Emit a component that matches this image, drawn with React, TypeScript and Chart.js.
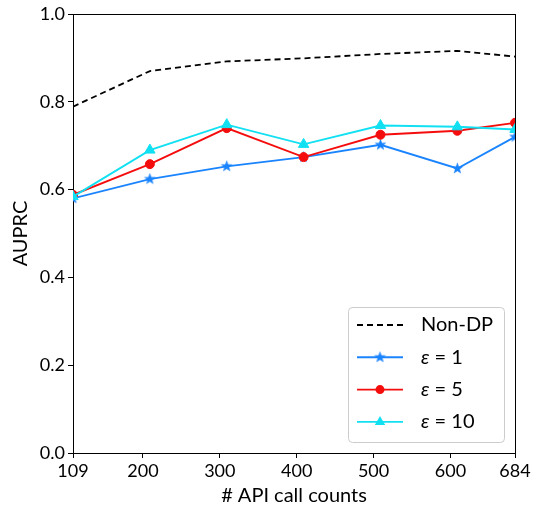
import React, { useEffect, useRef } from "react";
import { Chart, registerables } from "chart.js";

Chart.register(...registerables);

// ---- data ----
const apiCalls = [109, 209, 309, 409, 509, 609, 684];
const xTickValues = [109, 200, 300, 400, 500, 600, 684];
const yTickValues = [0, 0.2, 0.4, 0.6, 0.8, 1.0];
const nonDP = [0.789, 0.870, 0.892, 0.899, 0.909, 0.916, 0.903];
const eps1 = [0.580, 0.624, 0.653, 0.674, 0.702, 0.648, 0.720];
const eps5 = [0.588, 0.658, 0.740, 0.674, 0.725, 0.734, 0.752];
const eps10 = [0.584, 0.690, 0.748, 0.703, 0.746, 0.743, 0.737];
const seriesLabels = ["Non-DP", "ε = 1", "ε = 5", "ε = 10"];
const xTitle = "# API call counts";
const yTitle = "AUPRC";

const FONT = 'Lato, "Open Sans", "DejaVu Sans", sans-serif';
const FS_TICK = 18;
const FS_TITLE = 20;
const BLUE = "#1a84ff";
const RED = "#f50d0d";
const CYAN = "#10e0f2";

function makeStar(color: string, size: number) {
  const c = document.createElement("canvas");
  c.width = size;
  c.height = size;
  const g = c.getContext("2d")!;
  const cx = size / 2, cy = size / 2;
  const ro = size / 2 - 0.3, ri = ro * 0.42;
  g.beginPath();
  for (let i = 0; i < 10; i++) {
    const r = i % 2 === 0 ? ro : ri;
    const a = -Math.PI / 2 + (i * Math.PI) / 5;
    const x = cx + r * Math.cos(a), y = cy + r * Math.sin(a);
    if (i === 0) g.moveTo(x, y); else g.lineTo(x, y);
  }
  g.closePath();
  g.fillStyle = color;
  g.fill();
  return c;
}

function drawMarker(ctx: CanvasRenderingContext2D, style: string, x: number, y: number, r: number, color: string) {
  ctx.beginPath();
  ctx.fillStyle = color;
  if (style === "triangle") {
    ctx.moveTo(x, y - r);
    ctx.lineTo(x + r * Math.sin(Math.PI / 3), y + r / 2);
    ctx.lineTo(x - r * Math.sin(Math.PI / 3), y + r / 2);
    ctx.closePath();
  } else {
    ctx.arc(x, y, r, 0, Math.PI * 2);
  }
  ctx.fill();
}

const toXY = (ys: number[]) => ys.map((y, i) => ({ x: apiCalls[i], y }));

export default function App() {
  const ref = useRef<HTMLCanvasElement>(null);
  useEffect(() => {
    const star = makeStar(BLUE, 13);

    const framePlugin = {
      id: "frame",
      afterDatasetsDraw(chart: any) {
        const { ctx, chartArea: a } = chart;
        ctx.save();
        ctx.strokeStyle = "#000";
        ctx.lineWidth = 1;
        ctx.beginPath();
        ctx.moveTo(a.left, Math.round(a.top) + 0.5);
        ctx.lineTo(a.right, Math.round(a.top) + 0.5);
        ctx.moveTo(Math.round(a.right) + 0.5, a.top);
        ctx.lineTo(Math.round(a.right) + 0.5, a.bottom);
        ctx.stroke();
        ctx.restore();
      },
    };

    const legendPlugin = {
      id: "boxLegend",
      afterDraw(chart: any) {
        const { ctx, chartArea: a } = chart;
        const w = 156, h = 135;
        const right = a.right - 11, bottom = a.bottom - 11;
        const left = right - w, top = bottom - h;
        ctx.save();
        ctx.beginPath();
        const r = 4;
        ctx.moveTo(left + r, top + 0.5);
        ctx.arcTo(right + 0.5, top + 0.5, right + 0.5, bottom, r);
        ctx.arcTo(right + 0.5, bottom + 0.5, left, bottom + 0.5, r);
        ctx.arcTo(left + 0.5, bottom + 0.5, left + 0.5, top, r);
        ctx.arcTo(left + 0.5, top + 0.5, right, top + 0.5, r);
        ctx.closePath();
        ctx.fillStyle = "rgba(255,255,255,0.85)";
        ctx.fill();
        ctx.strokeStyle = "#cccccc";
        ctx.lineWidth = 1;
        ctx.stroke();

        const ds = chart.data.datasets;
        ds.forEach((d: any, i: number) => {
          const y = top + 18 + i * 32.3;
          const x0 = left + 9, x1 = left + 55, xm = (x0 + x1) / 2;
          ctx.beginPath();
          ctx.setLineDash(d.borderDash || []);
          ctx.strokeStyle = d.borderColor;
          ctx.lineWidth = d.borderWidth;
          ctx.moveTo(x0, y);
          ctx.lineTo(x1, y);
          ctx.stroke();
          ctx.setLineDash([]);
          if (d.pointRadius > 0) {
            if (d.pointStyle instanceof HTMLCanvasElement) {
              const img = d.pointStyle;
              ctx.drawImage(img, xm - img.width / 2, y - img.height / 2);
            } else {
              drawMarker(ctx, d.pointStyle, xm, y, d.pointRadius, d.pointBackgroundColor);
            }
          }
          const label: string = d.label;
          ctx.fillStyle = "#000";
          ctx.textBaseline = "middle";
          let tx = left + 73;
          if (label.startsWith("ε")) {
            ctx.font = `italic ${FS_TITLE}px ${FONT}`;
            ctx.fillText("ε", tx, y);
            tx += ctx.measureText("ε").width;
            ctx.font = `${FS_TITLE}px ${FONT}`;
            ctx.fillText(label.slice(1), tx, y);
          } else {
            ctx.font = `${FS_TITLE}px ${FONT}`;
            ctx.fillText(label, tx, y);
          }
        });
        ctx.restore();
      },
    };

    const commonPt = { pointBorderWidth: 1, pointHoverRadius: 5 };

    const chart = new Chart(ref.current!, {
      type: "line",
      data: {
        datasets: [
          {
            label: seriesLabels[0],
            data: toXY(nonDP),
            borderColor: "#000",
            backgroundColor: "#000",
            borderWidth: 1.8,
            borderDash: [6, 4],
            pointRadius: 0,
            clip: 0,
            order: 3,
          },
          {
            label: seriesLabels[1],
            data: toXY(eps1),
            borderColor: BLUE,
            backgroundColor: BLUE,
            borderWidth: 1.9,
            pointStyle: star,
            pointRadius: 6,
            pointBackgroundColor: BLUE,
            pointBorderColor: BLUE,
            clip: 0,
            order: 2,
            ...commonPt,
          },
          {
            label: seriesLabels[2],
            data: toXY(eps5),
            borderColor: RED,
            backgroundColor: RED,
            borderWidth: 1.9,
            pointStyle: "circle",
            pointRadius: 4.5,
            pointBackgroundColor: RED,
            pointBorderColor: RED,
            clip: 0,
            order: 1,
            ...commonPt,
          },
          {
            label: seriesLabels[3],
            data: toXY(eps10),
            borderColor: CYAN,
            backgroundColor: CYAN,
            borderWidth: 1.9,
            pointStyle: "triangle",
            pointRadius: 6,
            pointBackgroundColor: CYAN,
            pointBorderColor: CYAN,
            clip: 0,
            order: 0,
            ...commonPt,
          },
        ] as any,
      },
      options: {
        responsive: false,
        animation: false,
        devicePixelRatio: 1,
        layout: { padding: { top: 14, right: 20, left: 0, bottom: 0 } },
        plugins: { legend: { display: false }, tooltip: { enabled: false } },
        elements: { line: { tension: 0 } },
        scales: {
          x: {
            type: "linear",
            min: 109,
            max: 684,
            afterBuildTicks: (s: any) => {
              s.ticks = xTickValues.map((v) => ({ value: v }));
            },
            afterFit: (s: any) => {
              s.height = 55;
            },
            ticks: {
              autoSkip: false,
              maxRotation: 0,
              padding: 2,
              color: "#000",
              font: { family: FONT, size: FS_TICK },
              callback: (v: any) => String(v),
            },
            grid: {
              drawOnChartArea: false,
              drawTicks: true,
              tickLength: 5,
              tickColor: "#000",
              tickWidth: 1,
            },
            border: { color: "#000", width: 1 },
            title: {
              display: true,
              text: xTitle,
              color: "#000",
              font: { family: FONT, size: FS_TITLE },
              padding: { top: 0, bottom: 0 },
            },
          },
          y: {
            type: "linear",
            min: 0,
            max: 1,
            afterBuildTicks: (s: any) => {
              s.ticks = yTickValues.map((v) => ({ value: v }));
            },
            afterFit: (s: any) => {
              s.width = 73;
            },
            ticks: {
              autoSkip: false,
              padding: 3,
              color: "#000",
              font: { family: FONT, size: FS_TICK },
              callback: (v: any) => Number(v).toFixed(1),
            },
            grid: {
              drawOnChartArea: false,
              drawTicks: true,
              tickLength: 5,
              tickColor: "#000",
              tickWidth: 1,
            },
            border: { color: "#000", width: 1 },
            title: {
              display: true,
              text: yTitle,
              color: "#000",
              font: { family: FONT, size: FS_TITLE },
              padding: { top: 9, bottom: 0 },
            },
          },
        },
      } as any,
      plugins: [framePlugin, legendPlugin],
    });
    return () => chart.destroy();
  }, []);

  return (
    <div style={{ position: "fixed", left: 0, top: 0, width: 535, height: 508, background: "#fff" }}>
      <canvas ref={ref} width={535} height={508} style={{ width: 535, height: 508, display: "block" }} />
    </div>
  );
}
